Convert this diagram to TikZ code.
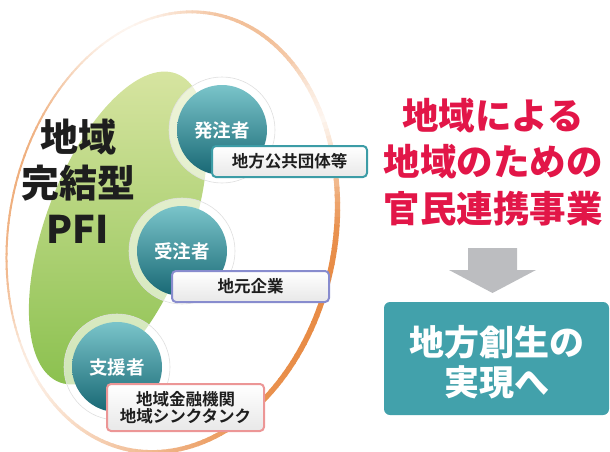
\documentclass[tikz,border=0pt]{standalone}
\usepackage{fontspec}
\setmainfont{Noto Sans CJK JP}
\newfontfamily\jpbold{Noto Sans CJK JP Bold}
\newfontfamily\jpblack{Noto Sans CJK JP Black}
\definecolor{ringor}{RGB}{232,140,70}
\definecolor{blobL}{RGB}{214,228,160}
\definecolor{blobD}{RGB}{140,193,80}
\definecolor{tealL}{RGB}{122,196,202}
\definecolor{tealD}{RGB}{24,104,116}
\definecolor{bdTeal}{RGB}{60,156,166}
\definecolor{bdBlue}{RGB}{136,140,206}
\definecolor{bdPink}{RGB}{236,150,150}
\definecolor{redT}{RGB}{226,22,72}
\definecolor{arrowG}{RGB}{188,189,192}
\definecolor{boxT}{RGB}{66,161,171}
\definecolor{darkT}{RGB}{30,30,30}
\begin{document}
\begin{tikzpicture}[x=1pt,y=1pt,
 halo/.style={circle, minimum size=106pt, inner sep=0, fill=white, fill opacity=0.6, draw=gray!25, line width=0.6pt},
 role/.style={circle, minimum size=90pt, inner sep=0, top color=tealL, bottom color=tealD, text=white, font=\jpbold\fontsize{18.5}{20}\selectfont},
 lbl/.style={rounded corners=4pt, line width=2pt, top color=white, bottom color=gray!18, text=darkT, font=\jpbold\fontsize{16.5}{17.5}\selectfont, align=center, inner sep=0},
 ]
\useasboundingbox (0,0) rectangle (610,-452);
% ring
\def\plist{{100,100,100,98,95,90,82,72,62,52,42,32,22,14,20,45,60,65,70,70,65,50,30,12,8,18,35,50,55,55,45,20,8,30,70,95,100}}
\def\wlist{{5.5,5.5,5.5,5.4,5.2,5,4.7,4.4,4.1,3.8,3.5,3.2,3,2.5,2,2,2,2,2,2,2,2,2,2,2,2.5,3,3.2,3.5,3.8,4,4.2,4.5,4.8,5.2,5.5,5.5}}
\begin{scope}[shift={(172,-232)},rotate=-11]
\foreach \i in {0,...,35}{
 \foreach \j in {0,1,2,3,4}{
  \pgfmathsetmacro\pa{\plist[\i]}
  \pgfmathsetmacro\pb{\plist[\i+1]}
  \pgfmathsetmacro\wa{\wlist[\i]}
  \pgfmathsetmacro\wb{\wlist[\i+1]}
  \pgfmathsetmacro\p{\pa+(\pb-\pa)*\j/5}
  \pgfmathsetmacro\w{\wa+(\wb-\wa)*\j/5}
  \pgfmathsetmacro\a{10*\i+2*\j}
  \draw[line width=\w pt, draw=ringor!\p!white] (-\a:163 and 222) arc[start angle=-\a, end angle=-\a-2.4, x radius=163, y radius=222];
 }}
\end{scope}
% green blob
\begin{scope}[shift={(118,-228)}, rotate=-20.7]
\shade[top color=blobL, bottom color=blobD] (0,0) ellipse[x radius=72, y radius=165];
\end{scope}
% big text
\node[text=darkT, align=center, font=\jpblack\fontsize{38}{46}\selectfont] (t) at (78,-181) {地域\\完結型\\PFI};
% halos and circles
\node[halo] (h1) at (222,-130) {};
\node[halo] (h2) at (182,-251) {};
\node[halo] (h3) at (117,-367) {};
\node[role] (c1) at (222,-130) {発注者};
\node[role] (c2) at (182,-251) {受注者};
\node[role] (c3) at (117,-367) {支援者};
% label boxes
\node[lbl, draw=bdTeal, minimum width=155pt, minimum height=31pt] (b1) at (289.5,-161.5) {地方公共団体等};
\node[lbl, draw=bdBlue, minimum width=157pt, minimum height=31pt] (b2) at (250.5,-286.5) {地元企業};
\node[lbl, draw=bdPink, minimum width=157pt, minimum height=47pt] (b3) at (185.5,-407.5) {地域金融機関\\地域シンクタンク};
% right side
\node[text=redT, align=center, font=\jpblack\fontsize{36.5}{46.5}\selectfont] (r) at (493,-162) {地域による\\地域のための\\官民連携事業};
\node[fill=boxT, rounded corners=6pt, minimum width=225pt, minimum height=113pt, inner sep=0] (g) at (496.5,-358.5) {};
\node[text=white, align=center, font=\jpblack\fontsize{35}{40}\selectfont] (gt) at (497,-362) {地方創生の\\実現へ};
\fill[arrowG] (468,-248) -- (517,-248) -- (517,-270) -- (536,-270) -- (492.5,-293) -- (449,-270) -- (468,-270) -- cycle;
\end{tikzpicture}
\end{document}
